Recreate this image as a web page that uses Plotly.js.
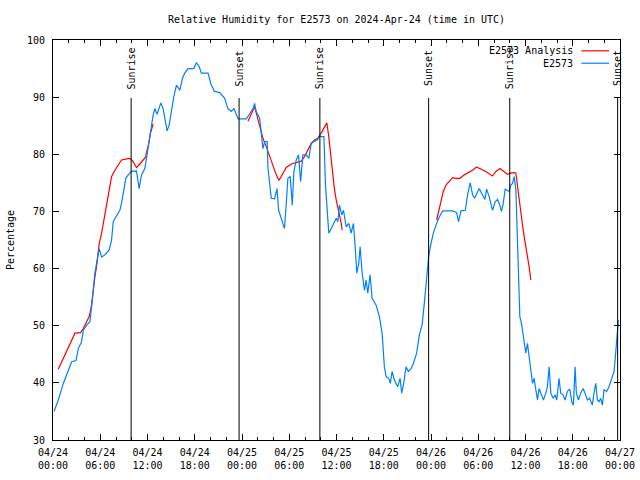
<!DOCTYPE html>
<html>
<head>
<meta charset="utf-8">
<script src="https://cdn.plot.ly/plotly-3.0.1.min.js"></script>
<style>html,body{margin:0;padding:0;background:#fff;}#chart{width:640px;height:480px;}</style>
</head>
<body>
<div id="chart"></div>
<script>
// Start of the time axis (UTC); all hour offsets are relative to this
var startDate = "2024-04-24";
var endDate = "2024-04-27";

// Observed series E2573: hours since start, relative humidity (%)
var obsHours = [
  0.13,0.67,1.31,1.94,2.37,2.92,3.21,3.63,3.85,4.27,
  4.69,4.90,5.11,5.32,5.53,5.87,6.17,6.59,7.14,7.44,
  7.65,8.07,8.49,8.70,8.91,9.25,9.55,9.97,10.6,10.8,
  10.94,11.24,11.66,11.87,12.08,12.3,12.5,12.72,12.93,13.22,
  13.69,13.98,14.2,14.49,14.75,15.04,15.34,15.68,16.1,16.44,
  16.73,17.15,17.87,18.2,18.55,18.84,19.69,20.03,20.5,21.17,
  21.8,22.2,22.65,22.98,23.28,23.5,24.55,24.97,25.4,25.6,
  25.8,26.24,26.45,26.66,26.87,27.2,27.3,27.72,28.14,28.44,
  28.65,29.07,29.4,29.62,29.83,30.12,30.38,30.59,30.89,31.18,
  31.44,31.73,32.16,32.49,32.79,33.21,33.55,33.84,34.4,34.6,
  34.82,35.02,35.33,35.75,35.96,36.17,36.38,36.67,36.89,37.23,
  37.56,37.86,38.15,38.4,38.57,38.83,39.0,39.26,39.55,39.76,
  39.97,40.27,40.52,41.03,41.45,41.79,42.08,42.3,42.63,42.84,
  43.06,43.35,43.77,44.07,44.28,44.53,44.83,45.12,45.47,45.76,
  46.18,46.52,46.86,47.15,47.45,47.7,48.0,48.3,48.64,48.97,
  49.48,50.74,51.25,51.5,51.81,52.35,52.64,52.98,53.28,53.53,
  54.12,54.54,54.85,55.05,55.39,55.81,56.15,56.45,56.66,56.95,
  57.17,57.42,57.93,58.14,58.35,58.56,58.78,58.86,58.98,59.11,
  59.28,59.49,59.7,59.92,60.04,60.25,60.46,60.68,60.89,61.1,
  61.31,61.52,61.73,62.02,62.28,62.58,62.78,63.0,63.21,63.5,
  63.76,63.97,64.26,64.47,64.77,65.03,65.32,65.62,65.88,66.08,
  66.3,66.46,66.72,67.01,67.31,67.56,67.85,68.15,68.48,68.7,
  68.92,69.13,69.34,69.55,69.76,69.97,70.31,70.6,70.82,71.03,
  71.24,71.45,71.66,71.79
];
var obsValues = [
  35.0,37.0,39.9,42.2,43.7,43.9,46.0,47.2,49.2,50.1,
  50.7,53.3,56.8,59.2,60.9,63.5,62.0,62.4,63.3,65.0,
  68.2,69.1,70.2,71.4,73.2,75.8,76.4,77.0,77.1,75.5,
  74.0,76.4,77.5,79.3,81.3,83.4,84.5,86.9,88.0,87.0,
  89.0,88.0,86.3,84.1,85.1,87.8,90.1,92.1,91.2,93.3,
  94.2,95.0,95.0,96.0,95.4,94.2,94.2,92.4,91.0,90.8,
  89.8,88.0,87.5,88.0,86.9,86.2,86.2,87.0,88.0,88.9,
  87.5,86.3,84.0,81.0,82.2,82.2,77.5,72.3,72.2,74.0,
  70.2,68.5,67.0,71.4,75.8,76.1,71.1,77.0,79.0,79.9,
  75.2,79.9,79.9,79.3,81.9,82.3,82.5,83.1,83.1,74.6,
  70.0,66.2,67.0,68.2,68.8,68.2,71.1,69.4,70.2,67.3,
  67.9,66.2,67.9,63.2,59.2,60.9,63.8,59.2,56.2,58.0,
  55.7,58.9,54.8,53.6,51.6,48.7,42.8,41.1,40.8,39.9,
  42.0,40.5,39.3,40.8,38.2,39.9,42.8,42.0,42.5,43.4,
  45.2,48.4,50.1,53.9,59.2,62.1,64.4,66.2,67.6,68.8,
  70.1,70.1,69.8,68.2,70.1,70.2,72.9,75.0,72.9,72.3,
  74.0,72.9,72.1,73.9,72.6,70.2,71.7,72.1,71.4,70.0,
  71.4,73.9,73.5,74.6,74.9,76.1,73.8,70.2,64.4,56.2,
  51.6,50.4,48.7,46.9,45.2,46.9,44.0,42.2,39.9,40.8,
  38.8,37.0,39.0,37.9,37.0,38.2,39.3,42.8,38.2,37.3,
  37.9,37.0,40.8,38.2,37.9,37.0,38.5,38.9,36.7,36.1,
  42.8,38.2,37.0,38.2,39.0,38.2,37.0,37.3,36.1,38.2,
  39.9,37.0,36.7,37.3,36.1,38.8,38.5,39.3,40.2,41.1,
  42.0,45.2,48.7,51.0
];

// Analysis series E2573 Analysis, three separate segments
var anaHours1 = [0.67,1.31,1.94,2.37,2.79,3.51,3.85,4.27,4.6,4.9,
  5.03,5.32,5.53,5.87,6.17,6.38,6.59,6.8,7.01,7.23,
  7.44,7.86,8.28,8.7,9.34,9.76,10.18,10.6,11.03,11.45,
  11.75,11.96,12.17,12.38,12.72];
var anaValues1 = [42.4,44.3,46.0,47.5,48.7,48.8,49.5,50.7,51.6,53.6,
  55.4,58.6,60.3,64.4,66.2,67.9,69.7,71.4,73.2,74.6,
  76.1,77.2,78.1,79.0,79.2,79.3,78.7,77.7,78.3,79.0,
  79.5,80.8,81.9,83.7,85.3];
var anaHours2 = [24.76,25.18,25.6,25.82,26.24,26.66,27.09,27.51,27.93,28.35,
  28.69,29.07,29.62,30.25,30.89,31.52,31.94,32.36,32.79,33.21,
  33.63,34.05,34.48,34.77,34.99,35.24,35.53,35.75,35.96,36.17,
  36.38,36.6,36.72];
var anaValues2 = [85.8,87.0,88.3,87.2,84.8,82.8,81.3,79.6,77.8,76.4,
  75.4,76.4,77.7,78.3,78.6,78.8,79.6,80.8,81.9,82.5,
  82.8,83.7,84.8,85.5,83.4,79.9,76.1,73.8,72.0,70.8,
  69.4,67.9,66.7];
var anaHours3 = [48.72,48.97,49.27,49.56,49.9,50.32,50.74,51.17,51.68,52.22,
  52.86,53.28,53.78,54.34,54.97,55.81,56.24,56.75,57.17,57.72,
  58.14,58.56,58.78,58.98,59.2,59.41,59.62,59.83,60.04,60.25,
  60.46,60.68];
var anaValues3 = [68.5,70.0,72.0,73.5,74.6,75.2,75.9,75.8,75.8,76.4,
  76.8,77.2,77.8,77.4,77.0,76.2,77.0,77.5,77.1,76.5,
  76.7,76.8,76.7,74.3,72.0,69.7,67.6,65.6,63.5,62.1,
  60.3,58.0];

// Sunrise / sunset events (hours since start)
var sunriseHours = [9.92, 33.89, 58.0];
var sunsetHours = [23.63, 47.7, 71.7];

var titleText = "Relative Humidity for E2573 on 2024-Apr-24 (time in UTC)";
var yTitle = "Percentage";
var seriesNames = ["E2573 Analysis", "E2573"];
var seriesColors = ["#ff0000", "#0080ff"];

function toTime(h) {
  var ms = Date.UTC(2024, 3, 24) + h * 3600000;
  return new Date(ms).toISOString().slice(0, 19).replace("T", " ");
}

var anaX = anaHours1.map(toTime).concat([null], anaHours2.map(toTime), [null], anaHours3.map(toTime));
var anaY = anaValues1.concat([null], anaValues2, [null], anaValues3);

var FONT = "DejaVu Sans Mono, monospace";

var traces = [
  {x: anaX, y: anaY, type: "scatter", mode: "lines", name: seriesNames[0],
   line: {color: seriesColors[0], width: 1.2}, connectgaps: false},
  {x: obsHours.map(toTime), y: obsValues, type: "scatter", mode: "lines", name: seriesNames[1],
   line: {color: seriesColors[1], width: 1.2}}
];

var shapes = [];
var annotations = [];
function addEvent(h, label) {
  shapes.push({type: "line", xref: "x", yref: "paper", x0: toTime(h), x1: toTime(h), y0: 0, y1: 0.855,
    line: {color: "black", width: 1}});
  annotations.push({xref: "x", yref: "paper", x: toTime(h), y: 0.929, text: label, textangle: -90,
    showarrow: false, xanchor: "center", yanchor: "middle", font: {family: FONT, size: 10, color: "black"}});
}
sunriseHours.forEach(function (h) { addEvent(h, "Sunrise"); });
sunsetHours.forEach(function (h) { addEvent(h, "Sunset"); });

// gnuplot-style key: text then line sample
var keyY = [0.973, 0.942];
seriesNames.forEach(function (n, i) {
  annotations.push({xref: "paper", yref: "paper", x: 0.921, y: keyY[i], text: n, showarrow: false,
    xanchor: "right", yanchor: "middle", font: {family: FONT, size: 10, color: "black"}});
  shapes.push({type: "line", xref: "paper", yref: "paper", x0: 0.932, x1: 0.981, y0: keyY[i], y1: keyY[i],
    line: {color: seriesColors[i], width: 1.2}});
});

var layout = {
  width: 640, height: 480,
  margin: {l: 53, r: 20, t: 40, b: 40},
  paper_bgcolor: "white", plot_bgcolor: "white",
  showlegend: false,
  font: {family: FONT, size: 10, color: "black"},
  title: {text: titleText, x: 0.5, xref: "paper", xanchor: "center", y: 0.96, yanchor: "middle",
    font: {family: FONT, size: 10, color: "black"}},
  xaxis: {
    type: "date", range: [startDate + " 00:00", endDate + " 00:00"],
    dtick: 21600000, tick0: startDate + " 00:00", tickformat: "%m/%d<br>%H:%M",
    ticks: "inside", ticklen: 6, tickcolor: "black", showgrid: false, zeroline: false,
    showline: true, linecolor: "black", linewidth: 1, mirror: "ticks",
    ticklabelstandoff: 3,
    minor: {dtick: 7200000, ticks: "inside", ticklen: 3, tickcolor: "black", showgrid: false},
    tickfont: {family: FONT, size: 10, color: "black"}
  },
  yaxis: {
    range: [30, 100], dtick: 10, tick0: 30,
    ticks: "inside", ticklen: 6, tickcolor: "black", showgrid: false, zeroline: false,
    showline: true, linecolor: "black", linewidth: 1, mirror: "ticks",
    ticklabelstandoff: 5,
    tickfont: {family: FONT, size: 10, color: "black"},
    title: {text: yTitle, font: {family: FONT, size: 10, color: "black"}, standoff: 10}
  },
  shapes: shapes,
  annotations: annotations
};

Plotly.newPlot("chart", traces, layout, {displayModeBar: false, staticPlot: true});
</script>
</body>
</html>
